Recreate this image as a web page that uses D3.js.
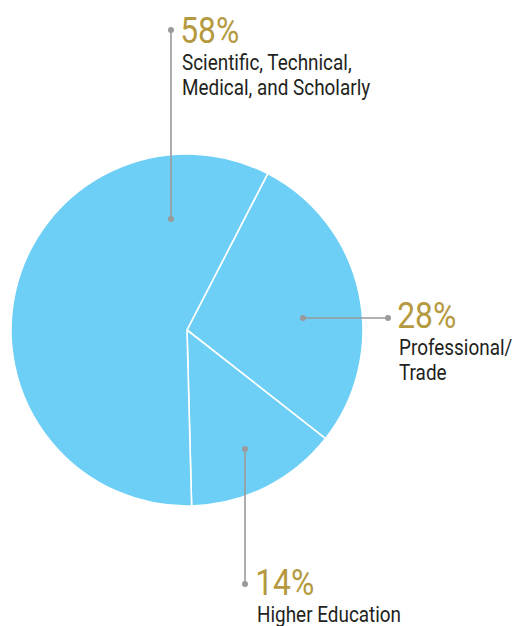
<!DOCTYPE html>
<html>
<head>
<meta charset="utf-8">
<script src="https://cdn.jsdelivr.net/npm/d3@7"></script>
<style>
  body { margin: 0; background: #fff; }
  .pct { font-family: Roboto, sans-serif; font-weight: 400; fill: #b5993e; font-size: 37px; }
  .lbl { font-family: Roboto, sans-serif; fill: #231f20; font-size: 22px; }
  .lead { stroke: #9a9a9a; stroke-width: 1.6; }
</style>
</head>
<body>
<div class="chart"></div>
<script>
// order follows the pie clockwise from the first slice edge
var categories = ["Professional/\nTrade", "Higher Education", "Scientific, Technical,\nMedical, and Scholarly"]
  , values = [28, 14, 58]
  , pctLabels = ["28%", "14%", "58%"];

var ww = 513, hh = 626
  , cx = 187, cy = 330, radius = 176
  , startDeg = 27.3
  , squeezePct = 0.86, squeezeLbl = 0.86   // condensed look
  // leader line: inner dot offset from centre, outer dot, text anchor
  , leaders = [
      {inner: [116, -12], outer: [388, 318], tx: 398, ty: 328},
      {inner: [58, 119], outer: [245, 584], tx: 256, ty: 595},
      {inner: [-16, -111], outer: [171, 30], tx: 181, ty: 43}
    ];

var svg = d3.select('.chart').append('svg')
  .attr('width', ww)
  .attr('height', hh);

var pie = d3.pie().sort(null)
  .startAngle(startDeg * Math.PI / 180)
  .endAngle(startDeg * Math.PI / 180 + 2 * Math.PI);

var arc = d3.arc().innerRadius(0).outerRadius(radius);

var g = svg.append('g').attr('transform', `translate(${cx},${cy})`);

g.selectAll('path')
  .data(pie(values))
  .enter()
  .append('path')
  .attr('d', arc)
  .attr('fill', '#6dcff6')
  .attr('stroke', '#fff')
  .attr('stroke-width', 1.6);

var labs = svg.selectAll('g.label')
  .data(leaders)
  .enter()
  .append('g')
  .attr('class', 'label');

labs.append('line')
  .attr('class', 'lead')
  .attr('x1', d => cx + d.inner[0])
  .attr('y1', d => cy + d.inner[1])
  .attr('x2', d => d.outer[0])
  .attr('y2', d => d.outer[1]);

labs.append('circle')
  .attr('cx', d => cx + d.inner[0])
  .attr('cy', d => cy + d.inner[1])
  .attr('r', 3)
  .attr('fill', '#9a9a9a');

labs.append('circle')
  .attr('cx', d => d.outer[0])
  .attr('cy', d => d.outer[1])
  .attr('r', 3)
  .attr('fill', '#9a9a9a');

labs.append('text')
  .attr('class', 'pct')
  .attr('transform', d => `translate(${d.tx},${d.ty}) scale(${squeezePct},1)`)
  .attr('x', -1)
  .text((d, i) => pctLabels[i]);

labs.each(function(d, i) {
  var t = d3.select(this).append('text')
    .attr('class', 'lbl')
    .attr('transform', `translate(${d.tx + 1},${d.ty + 27}) scale(${squeezeLbl},1)`);
  categories[i].split('\n').forEach(function(line, k) {
    t.append('tspan')
      .attr('x', 0)
      .attr('dy', k ? 25 : 0)
      .text(line);
  });
});
</script>
</body>
</html>
